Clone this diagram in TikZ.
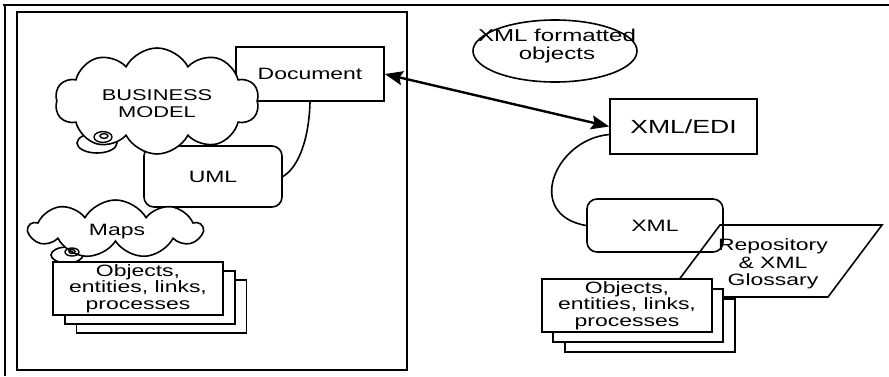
\documentclass[tikz,border=0pt]{standalone}
\usepackage{fontspec}
\setmainfont{Liberation Sans}[FakeStretch=1.4]
\usetikzlibrary{shapes.symbols,shapes.geometric,arrows.meta}

\tikzset{
  txt/.style={font=\fontsize{8.2}{8.2}\selectfont, align=center, inner sep=0pt},
  box/.style={txt, draw, fill=white, line width=0.8pt},
  rbox/.style={box, rounded corners=5pt},
  sheet/.style={box, minimum width=85pt, minimum height=26.5pt},
  puff/.style={cloud, draw, fill=white, line width=0.8pt, inner sep=0pt},
  swirl/.style={line width=0.7pt},
}

\begin{document}
\begin{tikzpicture}[x=0.5pt, y=-0.5pt, line width=0.8pt]
\useasboundingbox (0,0) rectangle (889,376);
% frame
\draw (3,5) -- (889,5);
\draw (5,5) -- (5,376);
\draw (17,12) rectangle (407,370);

% --- business side ---
\node[box, minimum width=74pt, minimum height=27pt] (doc) at (310,74) {Document};
\node[rbox, minimum width=69pt, minimum height=30.5pt] (uml) at (213,176.5) {UML};
\draw (doc.south) .. controls +(-1,39) and +(15,-8.5) .. (uml.east);

\draw[fill=white] (97,143) ellipse [x radius=10pt, y radius=5pt];
\node[puff, cloud puffs=10, cloud puff arc=125, aspect=1.9,
      minimum width=102pt, minimum height=53pt] (bm) at (157,101) {};
\node[txt, font=\fontsize{7.8}{8.5}\selectfont] (bmtxt) at (157,104) {BUSINESS\\MODEL};
\draw[swirl] (103,137) ellipse [x radius=4.5pt, y radius=2.7pt];
\draw[swirl] (104,136) ellipse [x radius=2pt, y radius=1.2pt];

\draw[fill=white] (67,255) ellipse [x radius=8pt, y radius=4pt];
\node[puff, cloud puffs=9, cloud puff arc=120, aspect=3,
      minimum width=86.5pt, minimum height=29pt] (maps) at (115.5,229) {};
\node[txt] (mapstxt) at (117,232) {Maps};
\draw[swirl] (72,252) ellipse [x radius=3.5pt, y radius=2pt];
\draw[swirl] (72,251.5) ellipse [x radius=1.5pt, y radius=1pt];

\node[sheet] (objL3) at (161.5,306.5) {};
\node[sheet] (objL2) at (150,297.5) {};
\node[sheet] (objL) at (138,288.5) {Objects,\\entities, links,\\processes};

% --- exchange side ---
\node[draw, ellipse, minimum width=82pt, minimum height=31pt, inner sep=0pt] (fmt) at (555,51) {};
\node[txt, font=\fontsize{8.6}{8.8}\selectfont] (fmttxt) at (557,46) {XML formatted\\objects};

\node[box, minimum width=73.5pt, minimum height=27.5pt,
      font=\fontsize{9.5}{10}\selectfont] (edi) at (683.5,126.5) {XML/EDI};
\node[rbox, minimum width=68pt, minimum height=26.5pt] (xml) at (655,225.5) {XML};

\draw[{Stealth[length=9pt,width=7pt,inset=1.5pt]}-{Stealth[length=9pt,width=7pt,inset=1.5pt]},
      line width=1.2pt] (doc.east) -- (edi.west);
\draw ([yshift=-4pt]edi.west) .. controls +(-55,5) and +(-62,-10.5) .. (xml.west);

% glossary (parallelogram)
\draw (720,225) -- (882,225) -- (828,297) -- (666,297) -- cycle;
\node[txt, font=\fontsize{8.2}{8.8}\selectfont] (repo) at (773,264) {Repository\\\& XML\\Glossary};

\node[sheet] (objR3) at (650,325.5) {};
\node[sheet] (objR2) at (638,315.5) {};
\node[sheet] (objR) at (627,305.5) {Objects,\\entities, links,\\processes};
\end{tikzpicture}
\end{document}
